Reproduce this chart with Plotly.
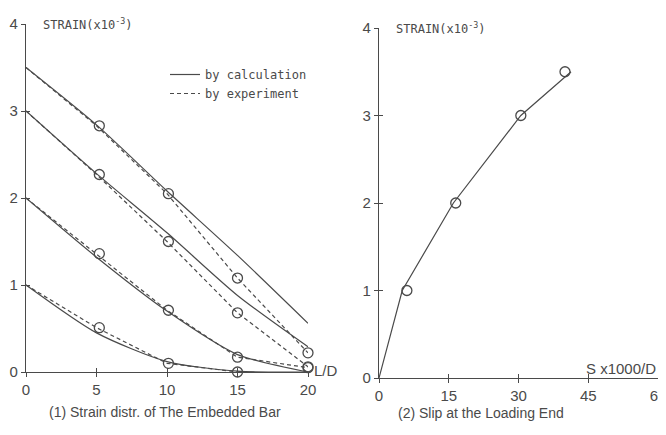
import plotly.graph_objects as go

# left panel: strain distribution along the embedded bar (L/D)
ld = [0, 5, 10, 15, 20]
calc_35 = [3.5, 2.84, 2.08, 1.34, 0.56]
exp_35 = [3.5, 2.83, 2.05, 1.08, 0.22]
calc_30 = [3.0, 2.28, 1.60, 0.88, 0.29]
exp_30 = [3.0, 2.27, 1.50, 0.68, 0.06]
calc_20 = [2.0, 1.32, 0.70, 0.20, 0.0]
exp_20 = [2.0, 1.36, 0.71, 0.17, 0.05]
calc_10 = [1.0, 0.45, 0.12, 0.01, 0.0]
exp_10 = [1.0, 0.51, 0.10, 0.0, -0.02]
marker_ld = [5.2, 10.1, 15, 20]

# right panel: slip at the loading end
slip_line_x = [0, 5, 16, 30.5, 41.3]
slip_line_y = [0, 1, 2, 3, 3.5]
slip_pts_x = [6, 16.5, 30.5, 40]
slip_pts_y = [1, 2, 3, 3.5]

INK = '#4a4a4a'
# page has an 8px body margin, so the figure is a bit smaller than the window
W, H = 650, 419

def px_x(a, b):
    return [a / W, b / W]

def px_y(top, bottom):
    return [1 - bottom / H, 1 - top / H]

fig = go.Figure()

first = True
for calc, exp in [(calc_35, exp_35), (calc_30, exp_30), (calc_20, exp_20), (calc_10, exp_10)]:
    fig.add_trace(go.Scatter(x=ld, y=calc, mode='lines', name='by calculation',
                             line=dict(color=INK, width=1.2, shape='spline', smoothing=0.7),
                             showlegend=first, legendgroup='calc', xaxis='x', yaxis='y'))
    fig.add_trace(go.Scatter(x=ld, y=exp, mode='lines', name='by experiment',
                             line=dict(color=INK, width=1.2, dash='4px,3px'),
                             showlegend=first, legendgroup='exp', xaxis='x', yaxis='y'))
    fig.add_trace(go.Scatter(x=marker_ld, y=exp[1:], mode='markers', showlegend=False,
                             marker=dict(symbol='circle-open', size=10, color=INK, line=dict(width=1.3)),
                             cliponaxis=False, xaxis='x', yaxis='y'))
    first = False

fig.add_trace(go.Scatter(x=slip_line_x, y=slip_line_y, mode='lines', showlegend=False,
                         line=dict(color=INK, width=1.2), xaxis='x2', yaxis='y2'))
fig.add_trace(go.Scatter(x=slip_pts_x, y=slip_pts_y, mode='markers', showlegend=False,
                         marker=dict(symbol='circle-open', size=10, color=INK, line=dict(width=1.3)),
                         cliponaxis=False, xaxis='x2', yaxis='y2'))

# dummy traces so the overlay (inside-tick) axes render
fig.add_trace(go.Scatter(x=[None], y=[None], xaxis='x3', yaxis='y3', showlegend=False))
fig.add_trace(go.Scatter(x=[None], y=[None], xaxis='x4', yaxis='y4', showlegend=False))

tickfont = dict(family='Liberation Sans', size=15, color=INK)
ax = dict(showline=True, linecolor=INK, linewidth=1.2, ticks='outside', ticklen=4, tickcolor=INK,
          showgrid=False, zeroline=False, tickfont=tickfont, automargin=False,
          ticklabeloverflow='allow')
ax_in = dict(showline=False, ticks='inside', ticklen=4, tickcolor=INK, showgrid=False,
             zeroline=False, showticklabels=False, automargin=False)

fig.update_layout(
    width=W, height=H, margin=dict(l=0, r=0, t=0, b=0),
    paper_bgcolor='white', plot_bgcolor='white',
    xaxis=dict(ax, domain=px_x(18, 300), range=[0, 20], tickvals=[0, 5, 10, 15, 20], anchor='y'),
    yaxis=dict(ax, domain=px_y(16, 364), range=[0, 4], tickvals=[0, 1, 2, 3, 4], anchor='x'),
    xaxis2=dict(ax, domain=px_x(371, 650), range=[0, 60], tickvals=[0, 15, 30, 45, 60], anchor='y2'),
    yaxis2=dict(ax, domain=px_y(20, 370), range=[0, 4], tickvals=[0, 1, 2, 3, 4], anchor='x2'),
    xaxis3=dict(ax_in, overlaying='x', matches='x', tickvals=[0, 5, 10, 15, 20], anchor='y'),
    yaxis3=dict(ax_in, overlaying='y', matches='y', tickvals=[0, 1, 2, 3, 4], anchor='x'),
    xaxis4=dict(ax_in, overlaying='x2', matches='x2', tickvals=[0, 15, 30, 45, 60], anchor='y2'),
    yaxis4=dict(ax_in, overlaying='y2', matches='y2', tickvals=[0, 1, 2, 3, 4], anchor='x2'),
    legend=dict(x=157 / W, y=1 - 52 / H, xanchor='left', yanchor='top',
                font=dict(family='DejaVu Sans Mono', size=12, color=INK),
                bgcolor='rgba(0,0,0,0)', tracegroupgap=0),
    showlegend=True,
)

lab = dict(family='DejaVu Sans Mono', size=12, color=INK)
fig.add_annotation(x=0, y=4, xref='x', yref='y', text='STRAIN(x10<sup>-3</sup>)', showarrow=False,
                   xanchor='left', xshift=15, yshift=0, font=lab)
fig.add_annotation(x=0, y=4, xref='x2', yref='y2', text='STRAIN(x10<sup>-3</sup>)', showarrow=False,
                   xanchor='left', xshift=15, yshift=0, font=lab)
fig.add_annotation(x=20, y=0, xref='x', yref='y', text='L/D', showarrow=False,
                   xanchor='left', xshift=4, yshift=2, font=dict(family='Liberation Sans', size=15, color=INK))
fig.add_annotation(x=60, y=0, xref='x2', yref='y2', text='S x1000/D', showarrow=False,
                   xanchor='right', yshift=10, font=dict(family='Liberation Sans', size=15, color=INK))
fig.add_annotation(x=157 / W, y=1 - 404 / H, xref='paper', yref='paper', xanchor='center',
                   yanchor='middle', text='(1) Strain distr. of The Embedded Bar', showarrow=False,
                   font=dict(family='Liberation Sans', size=14, color=INK))
fig.add_annotation(x=473 / W, y=1 - 405 / H, xref='paper', yref='paper', xanchor='center',
                   yanchor='middle', text='(2) Slip at the Loading End', showarrow=False,
                   font=dict(family='Liberation Sans', size=14, color=INK))

fig.write_html("out.html")
